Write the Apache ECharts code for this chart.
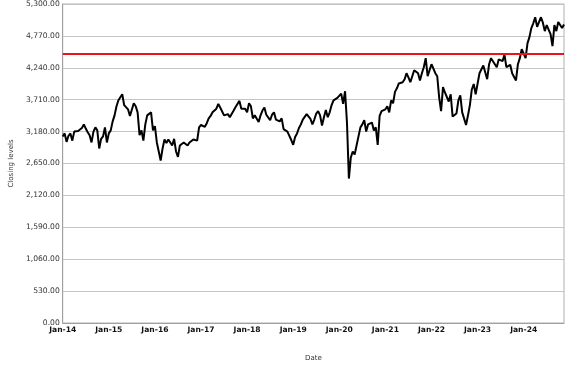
<!DOCTYPE html>
<html>
<head>
<meta charset="utf-8">
<script src="https://cdn.jsdelivr.net/npm/echarts@6/dist/echarts.min.js"></script>
<style>html,body{margin:0;padding:0;background:#fff;}#c{width:577px;height:367px;}</style>
</head>
<body>
<div id="c"></div>
<script>
// Semi-monthly closing levels (1st and 16th of each month)
const y2014 = [3100,3150,3010,3110,3150,3030,3180,3150,3190,3170,3240,3300,3230,3170,3120,3000,3180,3250,3200,2900,3060,3100,3250,3000];
const y2015 = [3150,3200,3350,3450,3600,3700,3700,3800,3620,3650,3550,3440,3450,3650,3600,3500,3120,3200,3030,3300,3450,3450,3500,3200];
const y2016 = [3270,3000,2980,2700,2900,3050,2990,3050,3030,2950,3060,2850,2760,2950,2950,3000,3020,2950,3000,3000,3050,3020,3030,3250];
const y2017 = [3290,3300,3260,3320,3400,3440,3500,3470,3560,3640,3580,3560,3450,3480,3470,3420,3440,3530,3590,3610,3690,3560,3590,3560];
const y2018 = [3500,3650,3600,3400,3450,3420,3340,3450,3530,3580,3460,3480,3370,3460,3500,3380,3390,3350,3400,3220,3200,3180,3170,3040];
const y2019 = [2960,3090,3150,3240,3300,3380,3380,3470,3480,3390,3300,3380,3480,3520,3450,3280,3420,3540,3420,3500,3620,3700,3690,3740];
const y2020 = [3750,3810,3640,3850,3330,2400,2750,2850,2800,2780,3100,3250,3300,3370,3180,3300,3300,3330,3200,3250,2960,3440,3520,3550];
const y2021 = [3550,3600,3500,3700,3650,3840,3900,3980,3970,4000,4050,4150,4080,4000,4100,4200,4200,4150,4030,4150,4250,4400,4100,4200];
const y2022 = [4300,4300,4150,4100,3750,3520,3920,3830,3800,3680,3800,3430,3450,3480,3700,3780,3500,3520,3290,3450,3620,3880,3970,3800];
const y2023 = [3800,4150,4170,4280,4250,4050,4300,4400,4350,4320,4250,4380,4400,4350,4460,4250,4280,4290,4150,4150,4030,4300,4400,4550];
const y2024 = [4520,4400,4650,4750,4900,4980,5080,4920,4950,5080,4990,4850,4950,4980,4800,4600,4950,4850,5000,4980,4900,4960];
const years = [2014,2015,2016,2017,2018,2019,2020,2021,2022,2023,2024];
const yearValues = [y2014,y2015,y2016,y2017,y2018,y2019,y2020,y2021,y2022,y2023,y2024];
const referenceLevel = 4470;
const yTicks = [0,530,1060,1590,2120,2650,3180,3710,4240,4770,5300];
const xTickLabels = ['Jan-14','Jan-15','Jan-16','Jan-17','Jan-18','Jan-19','Jan-20','Jan-21','Jan-22','Jan-23','Jan-24'];

const data = [];
years.forEach((yr, k) => {
  yearValues[k].forEach((v, i) => data.push([yr + i / 24, v]));
});

const chart = echarts.init(document.getElementById('c'), null, {renderer: 'canvas'});
chart.setOption({
  animation: false,
  backgroundColor: '#fff',
  grid: {left: 52, right: 13, top: 4, bottom: 44, show: true, borderColor: '#b0b0b0', borderWidth: 1, containLabel: false},
  xAxis: {
    type: 'value', min: 2014, max: 2024.875, interval: 1,
    name: 'Date', nameLocation: 'middle', nameGap: 32,
    nameTextStyle: {fontFamily: 'DejaVu Sans', fontSize: 7, color: '#333'},
    axisLine: {show: true, lineStyle: {color: '#a0a0a0'}},
    axisTick: {show: false},
    splitLine: {show: false},
    axisLabel: {
      showMaxLabel: false, margin: 3,
      fontFamily: 'DejaVu Sans', fontSize: 7.6, fontWeight: 'bold', color: '#111',
      formatter: v => { const i = Math.round(v - 2014); return Math.abs(v - Math.round(v)) < 1e-6 && xTickLabels[i] ? xTickLabels[i] : ''; }
    }
  },
  yAxis: {
    type: 'value', min: yTicks[0], max: yTicks[yTicks.length - 1], interval: 530,
    name: 'Closing levels', nameLocation: 'middle', nameGap: 40,
    nameTextStyle: {fontFamily: 'DejaVu Sans', fontSize: 7, color: '#333'},
    axisLine: {show: true, lineStyle: {color: '#a0a0a0'}},
    axisTick: {show: false},
    splitLine: {show: true, lineStyle: {color: '#c4c4c4', width: 1}},
    axisLabel: {
      margin: 3, fontFamily: 'DejaVu Sans', fontSize: 7.6, color: '#333',
      formatter: v => v.toLocaleString('en-US', {minimumFractionDigits: 2, maximumFractionDigits: 2})
    }
  },
  series: [{
    type: 'line', data: data, showSymbol: false, symbol: 'none',
    lineStyle: {color: '#000', width: 2}, z: 3,
    markLine: {
      silent: true, symbol: 'none', label: {show: false},
      lineStyle: {color: '#e8161b', width: 2, type: 'solid'},
      data: [{yAxis: referenceLevel}]
    }
  }]
});
</script>
</body>
</html>
